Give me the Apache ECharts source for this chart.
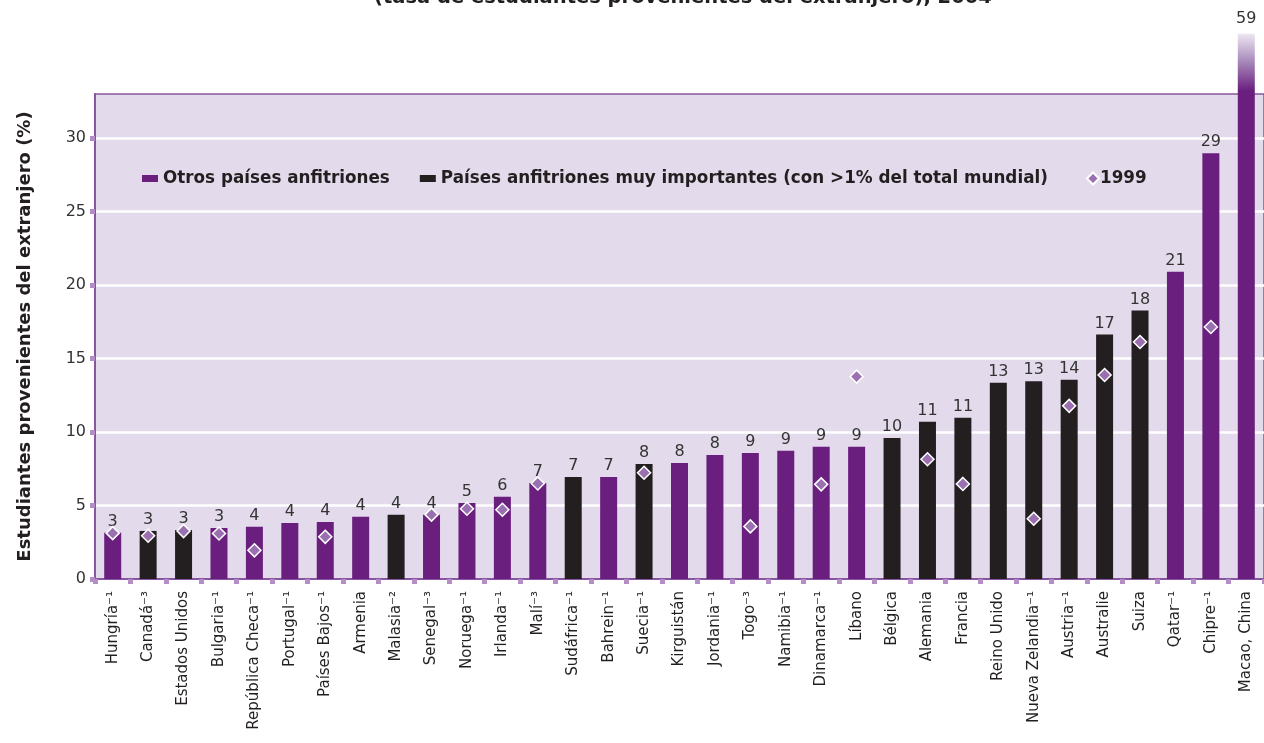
<!DOCTYPE html>
<html>
<head>
<meta charset="utf-8">
<script src="https://cdn.jsdelivr.net/npm/echarts@6/dist/echarts.min.js"></script>
<style>
  html, body { margin: 0; padding: 0; background: #fff; }
  #main { width: 1264px; height: 743px; }
</style>
</head>
<body>
<div id="main"></div>
<script>
'use strict'

// countries, ordered as in the chart
var countries = ['Hungría⁻¹', 'Canadá⁻³', 'Estados Unidos', 'Bulgaria⁻¹', 'República Checa⁻¹',
    'Portugal⁻¹', 'Países Bajos⁻¹', 'Armenia', 'Malasia⁻²', 'Senegal⁻³', 'Noruega⁻¹',
    'Irlanda⁻¹', 'Malí⁻³', 'Sudáfrica⁻¹', 'Bahrein⁻¹', 'Suecia⁻¹', 'Kirguistán',
    'Jordania⁻¹', 'Togo⁻³', 'Namibia⁻¹', 'Dinamarca⁻¹', 'Líbano', 'Bélgica', 'Alemania',
    'Francia', 'Reino Unido', 'Nueva Zelandia⁻¹', 'Austria⁻¹', 'Australie', 'Suiza',
    'Qatar⁻¹', 'Chipre⁻¹', 'Macao, China'];

// share of foreign students, 2004 (%)
var values2004 = [3.15, 3.27, 3.33, 3.47, 3.56, 3.81, 3.88, 4.24, 4.38, 4.38, 5.17,
    5.6, 6.53, 6.94, 6.94, 7.82, 7.9, 8.44, 8.58, 8.72, 8.99, 8.99, 9.6, 10.7,
    10.97, 13.36, 13.45, 13.56, 16.63, 18.27, 20.9, 28.97, 59];

// share of foreign students, 1999 (%)
var values1999 = [3.12, 2.94, 3.26, 3.1, 1.95, null, 2.87, null, null, 4.38, 4.78,
    4.71, 6.5, null, null, 7.23, null, null, 3.58, null, 6.44, 13.77, null, 8.15,
    6.47, null, 4.1, 11.78, 13.88, 16.13, null, 17.15, null];

// 1 = very important host (>1% of world total)
var majorHost = [0, 1, 1, 0, 0, 0, 0, 0, 1, 0, 0, 0, 0, 1, 0, 1, 0, 0, 0, 0, 0, 0,
    1, 1, 1, 1, 1, 1, 1, 1, 0, 0, 0];

var yTicks = [0, 5, 10, 15, 20, 25, 30];

var PURPLE = '#6a1e7e';
var BLACK = '#231f20';
var AXIS = '#8a55a0';
var TICK = '#b48cc6';
var FONT = '"DejaVu Sans", sans-serif';

// bars above the axis maximum are drawn as a cut bar
var CUT = 37.1;

function barItem(v) {
    if (v <= CUT) return v;
    return {
        value: CUT,
        label: { distance: 7 },
        itemStyle: {
            color: new echarts.graphic.LinearGradient(0, 0, 0, 1, [
                { offset: 0, color: '#ede7f2' },
                { offset: 0.05, color: '#a98bbb' },
                { offset: 0.105, color: PURPLE },
                { offset: 1, color: PURPLE }
            ])
        }
    };
}

var otherData = [];
var majorData = [];
for (let i = 0; i < countries.length; i++) {
    if (majorHost[i]) {
        majorData.push(barItem(values2004[i]));
        otherData.push(null);
    } else {
        otherData.push(barItem(values2004[i]));
        majorData.push(null);
    }
}

var barLabel = {
    show: true,
    position: 'top',
    distance: 3,
    fontFamily: FONT,
    fontSize: 16,
    color: '#333',
    formatter: function (p) {
        return Math.round(values2004[p.dataIndex]);
    }
};

var myChart = echarts.init(document.getElementById('main'));

var option = {
    animation: false,
    title: {
        text: '(tasa de estudiantes provenientes del extranjero), 2004',
        left: 369,
        top: -17,
        textStyle: { fontFamily: FONT, fontSize: 19.5, fontWeight: 'bold', color: '#231f20' }
    },
    legend: [{
        left: 137,
        top: 165,
        icon: 'rect',
        itemWidth: 16,
        itemHeight: 7,
        itemGap: 30,
        textStyle: { fontFamily: FONT, fontSize: 16.8, fontWeight: 'bold', color: '#231f20' },
        data: ['Otros países anfitriones', 'Países anfitriones muy importantes (con >1% del total mundial)']
    }, {
        left: 1081,
        top: 165,
        itemWidth: 12,
        itemHeight: 12,
        textStyle: { fontFamily: FONT, fontSize: 16.8, fontWeight: 'bold', color: '#231f20', padding: [0, 0, 0, -4] },
        data: ['1999']
    }],
    grid: {
        left: 95,
        right: -2,
        top: 94,
        bottom: 164,
        show: true,
        backgroundColor: '#e3dbeb',
        borderColor: AXIS,
        borderWidth: 1.5
    },
    xAxis: {
        type: 'category',
        data: countries,
        axisLine: { lineStyle: { color: AXIS, width: 2 } },
        axisTick: { show: true, length: 5, lineStyle: { color: TICK, width: 5 } },
        axisLabel: {
            interval: 0,
            rotate: 90,
            margin: 12,
            fontFamily: FONT,
            fontSize: 15,
            color: '#231f20'
        }
    },
    yAxis: {
        type: 'value',
        min: 0,
        max: 33,
        interval: 5,
        name: 'Estudiantes provenientes del extranjero (%)',
        nameLocation: 'middle',
        nameGap: 61,
        nameTextStyle: { fontFamily: FONT, fontSize: 18, fontWeight: 'bold', color: '#231f20' },
        axisLine: { show: true, lineStyle: { color: AXIS, width: 2 } },
        axisTick: { show: true, length: 5, customValues: yTicks, lineStyle: { color: TICK, width: 5 } },
        axisLabel: {
            margin: 9,
            fontFamily: FONT,
            fontSize: 16,
            color: '#333',
            customValues: yTicks
        },
        splitLine: { lineStyle: { color: '#ffffff', width: 2.5 } }
    },
    series: [{
        name: 'Otros países anfitriones',
        type: 'bar',
        barWidth: 17,
        barGap: '-100%',
        clip: false,
        itemStyle: { color: PURPLE },
        label: barLabel,
        data: otherData
    }, {
        name: 'Países anfitriones muy importantes (con >1% del total mundial)',
        type: 'bar',
        barWidth: 17,
        barGap: '-100%',
        clip: false,
        itemStyle: { color: BLACK },
        label: barLabel,
        data: majorData
    }, {
        name: '1999',
        type: 'scatter',
        symbol: 'diamond',
        symbolSize: 13,
        itemStyle: { color: '#9a70b0', borderColor: '#ffffff', borderWidth: 1.5, opacity: 1 },
        z: 5,
        data: values1999
    }]
};

myChart.setOption(option);
</script>
</body>
</html>
